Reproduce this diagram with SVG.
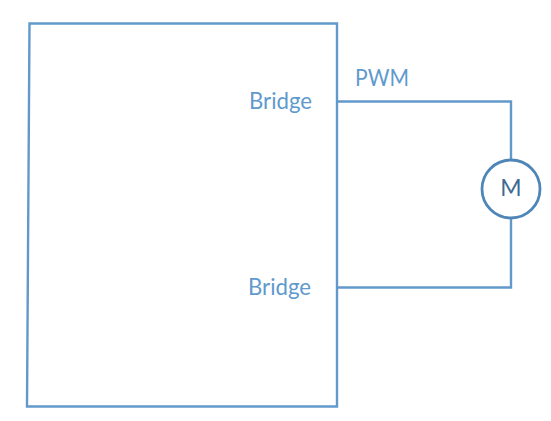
<svg xmlns="http://www.w3.org/2000/svg" width="551" height="421" viewBox="0 0 551 421">
<style>
.w{fill:none;stroke:#6199cb;stroke-width:2.400}
.t{font-family:Lato,"Open Sans","Liberation Sans",sans-serif;font-size:23px;fill:#5f9acd}
</style>
<rect width="551" height="421" fill="#fff"/>
<g id="controller">
<path class="w" d="M29.500 23.500H337V406.500H27Z"/>
<text class="t" x="249" y="109" textLength="63" lengthAdjust="spacingAndGlyphs">Bridge</text>
<text class="t" x="248" y="295" textLength="63" lengthAdjust="spacingAndGlyphs">Bridge</text>
</g>
<g id="connectors">
<path class="w" d="M337 101.500H511V160"/>
<path class="w" d="M337 287.500H511V218"/>
</g>
<text class="t" x="355" y="86" textLength="54" lengthAdjust="spacingAndGlyphs">PWM</text>
<g id="motor">
<circle cx="511" cy="189" r="29" fill="#fff" stroke="#4f86b8" stroke-width="2.800"/>
<text x="511" y="196" text-anchor="middle" font-family="Lato,'Open Sans','Liberation Sans',sans-serif" font-size="23" fill="#3f6a94">M</text>
</g>
</svg>
